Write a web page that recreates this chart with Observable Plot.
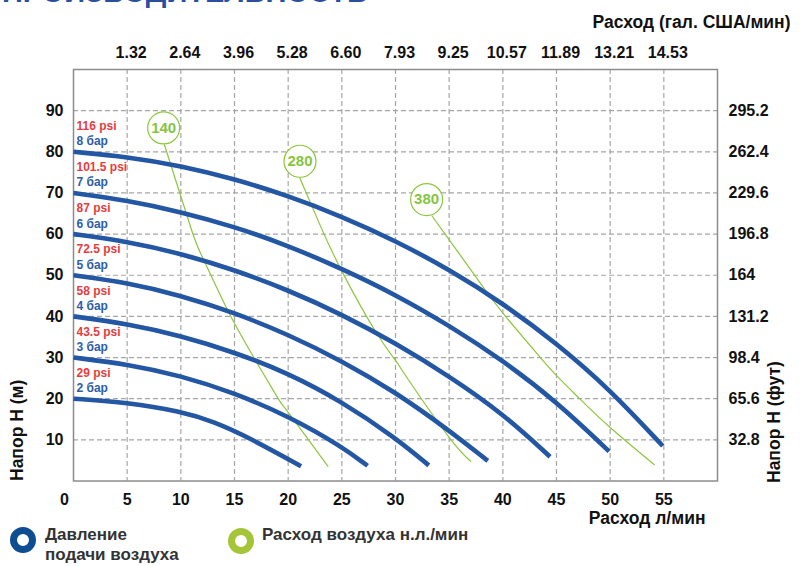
<!DOCTYPE html>
<html><head><meta charset="utf-8">
<script src="https://cdn.jsdelivr.net/npm/d3@7"></script>
<script src="https://cdn.jsdelivr.net/npm/@observablehq/plot@0.6"></script>
<style>
body{margin:0;background:#fff;font-family:"Liberation Sans",Arial,sans-serif;}
#wrap{position:relative;width:800px;height:566px;overflow:hidden;}
#title{position:absolute;left:2px;top:-24px;font-size:29px;font-weight:bold;color:#2a4f9e;white-space:nowrap;z-index:2;}
#chart{position:absolute;left:0;top:0;}
.leg{position:absolute;font-size:17px;font-weight:bold;color:#333;line-height:20px;}
.ring{position:absolute;width:12px;height:12px;border-radius:50%;border-width:7px;border-style:solid;}
</style></head><body>
<div id="wrap">
<div id="title">ПРОИЗВОДИТЕЛЬНОСТЬ</div>
<div id="chart"></div>
<div class="ring" style="left:10px;top:527px;border-color:#0e4d92;"></div>
<div class="leg" style="left:45px;top:525px;">Давление<br>подачи воздуха</div>
<div class="ring" style="left:228px;top:528px;border-color:#a5c538;"></div>
<div class="leg" style="left:262px;top:525px;">Расход воздуха н.л./мин</div>
</div>
<script>
// ticks
const xTicks = [0,5,10,15,20,25,30,35,40,45,50,55];
const galTicks = ["1.32","2.64","3.96","5.28","6.60","7.93","9.25","10.57","11.89","13.21","14.53"];
const yTicks = [10,20,30,40,50,60,70,80,90];
const ftTicks = ["32.8","65.6","98.4","131.2","164","196.8","229.6","262.4","295.2"];

// pressure curves (x: л/мин, y: м)
const barLabels = ["8 бар","7 бар","6 бар","5 бар","4 бар","3 бар","2 бар"];
const psiLabels = ["116 psi","101.5 psi","87 psi","72.5 psi","58 psi","43.5 psi","29 psi"];
const curve8 = [[0,80],[5,78.8],[10,76.6],[15,73.4],[20,69.3],[25,64.3],[30,58.4],[35,51.4],[40,43.2],[45,33.5],[50,22.2],[54.9,8.5]];
const curve7 = [[0,70],[5,68.2],[10,65.4],[15,61.8],[20,57.2],[25,51.6],[30,45.3],[35,37.8],[40,29.3],[45,19.3],[49.9,7.2]];
const curve6 = [[0,60],[5,58.2],[10,55.3],[15,51.3],[20,46.4],[25,40.5],[30,33.5],[35,25.5],[40,16.4],[44.4,5.9]];
const curve5 = [[0,50],[5,48.2],[10,45.1],[15,40.9],[20,35.6],[25,29.2],[30,21.6],[35,12.3],[38.6,4.9]];
const curve4 = [[0,40],[5,38.2],[10,35.3],[15,31.3],[20,26.2],[25,19.3],[30,10.5],[33.1,3.8]];
const curve3 = [[0,30],[5,28.4],[10,25.6],[15,21.4],[20,15.8],[25,8.4],[27.4,3.7]];
const curve2 = [[0,20],[5,19.1],[10,16.9],[13,14.5],[16.4,10.5],[21.2,3.6]];

// air consumption lines (н.л./мин)
const airFlows = ["140","280","380"];
const air140 = [[8.47,81.7],[11.0,61],[12.1,53.9],[14.4,41.3],[16.8,30],[19.1,19.9],[20,16.7],[23.7,3.6]];
const air280 = [[21.1,73.6],[23,62],[25,51],[28.1,36.5],[30,29.3],[31.2,24.6],[35,10.6],[37,4.8]];
const air380 = [[33.4,64.4],[36,55],[38.2,47],[40.1,40.5],[43.5,30],[45.3,24.8],[47.2,19.9],[50,13],[54.1,4]];
const airLabelX = [8.4,21.1,32.9];
const airLabelY = [85.8,77.7,68.4];

const curves = [curve8,curve7,curve6,curve5,curve4,curve3,curve2];
const pressureRows = curves.flatMap((c,i)=>c.map(([x,y])=>({x,y,bar:barLabels[i]})));
const pressureStarts = curves.map((c,i)=>({x:c[0][0],y:c[0][1],bar:barLabels[i],psi:psiLabels[i]}));
const airs = [air140,air280,air380];
const airRows = airs.flatMap((c,i)=>c.map(([x,y])=>({x,y,flow:airFlows[i]})));
const airLabels = airFlows.map((f,i)=>({x:airLabelX[i],y:airLabelY[i],flow:f}));

const green = "#8cc63e";
const font = '"Liberation Sans", Arial, sans-serif';

const chart = Plot.plot({
  width:800, height:528,
  marginLeft:73, marginRight:83, marginTop:69, marginBottom:47.5,
  x:{domain:[0,60]}, y:{domain:[0,100]},
  style:{fontFamily:font, fontWeight:"bold", color:"#111", background:"transparent"},
  marks:[
    Plot.gridX(xTicks.slice(1), {stroke:"#a6a6a6", strokeOpacity:1, strokeWidth:1.2, strokeDasharray:"5,3"}),
    Plot.gridY(yTicks, {stroke:"#a6a6a6", strokeOpacity:1, strokeWidth:1.2, strokeDasharray:"5,3"}),
    Plot.frame({stroke:"#8c8c8c", strokeWidth:1.5}),
    Plot.axisX(xTicks.slice(0,1), {anchor:"bottom", tickSize:0, tickPadding:13, fontSize:16, fontWeight:"bold", label:null, dx:-9}),
    Plot.axisX(xTicks.slice(1), {anchor:"bottom", tickSize:0, tickPadding:13, fontSize:16, fontWeight:"bold", label:null}),
    Plot.axisX(xTicks.slice(1), {anchor:"top", tickSize:0, tickPadding:12, fontSize:16, fontWeight:"bold", label:null, dx:4,
      tickFormat:(d)=>galTicks[xTicks.indexOf(d)-1]}),
    Plot.axisY(yTicks, {anchor:"left", tickSize:0, tickPadding:10, fontSize:16, fontWeight:"bold", label:null}),
    Plot.axisY(yTicks, {anchor:"right", tickSize:0, tickPadding:11, fontSize:16, fontWeight:"bold", label:null,
      tickFormat:(d)=>ftTicks[yTicks.indexOf(d)]}),
    Plot.text(["Расход (гал. США/мин)"], {text:d=>d, frameAnchor:"top-right", textAnchor:"end", dx:73, dy:-54, fontSize:17.5, fontWeight:"bold", fill:"#111"}),
    Plot.text(["Расход л/мин"], {text:d=>d, frameAnchor:"bottom-right", textAnchor:"end", dx:-12, dy:42.5, fontSize:17.5, fontWeight:"bold", fill:"#111"}),
    Plot.text(["Напор Н (м)"], {text:d=>d, frameAnchor:"bottom-left", textAnchor:"start", rotate:-90, dx:-51, dy:0, fontSize:17.5, fontWeight:"bold", fill:"#111"}),
    Plot.text(["Напор Н (фут)"], {text:d=>d, frameAnchor:"bottom-right", textAnchor:"start", rotate:-90, dx:62, dy:2, fontSize:17.5, fontWeight:"bold", fill:"#111"}),
    Plot.line(airRows, {x:"x", y:"y", z:"flow", stroke:green, strokeWidth:1.2, curve:"natural"}),
    Plot.line(pressureRows, {x:"x", y:"y", z:"bar", stroke:"#2356a3", strokeWidth:4.6, curve:"basis", strokeLinecap:"butt"}),
    Plot.dot(airLabels, {x:"x", y:"y", r:16, fill:"white", stroke:green, strokeWidth:1.2}),
    Plot.text(airLabels, {x:"x", y:"y", text:"flow", fill:"#86c440", fontSize:15, fontWeight:"bold"}),
    Plot.text(pressureStarts, {x:"x", y:"y", text:"psi", textAnchor:"start", dx:3, dy:-25.6, fill:"#e63c3c", fontSize:12, fontWeight:"bold"}),
    Plot.text(pressureStarts, {x:"x", y:"y", text:"bar", textAnchor:"start", dx:3, dy:-10.3, fill:"#2e5ca8", fontSize:12, fontWeight:"bold"})
  ]
});
document.getElementById("chart").appendChild(chart);
</script>
</body></html>
